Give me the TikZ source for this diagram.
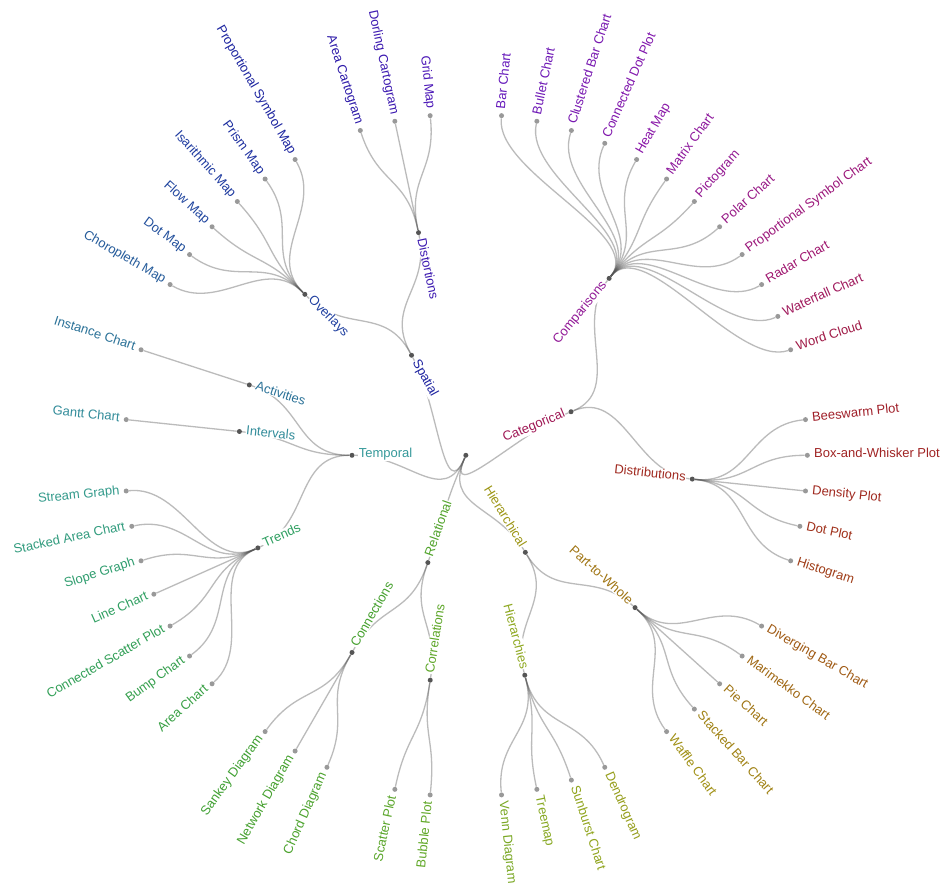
\documentclass[tikz,border=0pt]{standalone}
\usepackage{fontspec}
\setmainfont{Liberation Sans}
\pgfdeclarelayer{bg}
\pgfsetlayers{bg,main}
\definecolor{kA}{HTML}{5C18C0}
\definecolor{kB}{HTML}{8A18A8}
\definecolor{kC}{HTML}{A01870}
\definecolor{kD}{HTML}{A01C2C}
\definecolor{kE}{HTML}{A02C1C}
\definecolor{kF}{HTML}{A05A14}
\definecolor{kG}{HTML}{A09214}
\definecolor{kH}{HTML}{8EA820}
\definecolor{kI}{HTML}{62A828}
\definecolor{kJ}{HTML}{40A030}
\definecolor{kK}{HTML}{30A060}
\definecolor{kL}{HTML}{35999A}
\definecolor{kM}{HTML}{2A6E98}
\definecolor{kN}{HTML}{2040A0}
\definecolor{kO}{HTML}{1C1CA0}
\definecolor{kP}{HTML}{5C18C0}
\definecolor{nc}{HTML}{000000}
\definecolor{dk}{HTML}{555555}
\definecolor{lt}{HTML}{999999}
\definecolor{lkcol}{HTML}{555555}
\makeatletter
\newcommand\mkcol[1]{\def\mk@a{#1}%
 \mk@t{0}{30}{kA}{kB}\mk@t{30}{60}{kB}{kC}\mk@t{60}{80}{kC}{kD}%
 \mk@t{80}{100}{kD}{kE}\mk@t{100}{120}{kE}{kF}\mk@t{120}{145}{kF}{kG}%
 \mk@t{145}{165}{kG}{kH}\mk@t{165}{185}{kH}{kI}\mk@t{185}{215}{kI}{kJ}%
 \mk@t{215}{245}{kJ}{kK}\mk@t{245}{270}{kK}{kL}\mk@t{270}{290}{kL}{kM}%
 \mk@t{290}{315}{kM}{kN}\mk@t{315}{335}{kN}{kO}\mk@t{335}{360}{kO}{kP}}
\newcommand\mk@t[4]{\ifdim\mk@a pt<#1pt\relax\else\ifdim\mk@a pt>#2pt\relax\else
  \pgfmathsetmacro\mk@f{100*(\mk@a-#1)/(#2-#1)}\colorlet{nc}{#4!\mk@f!#3}\fi\fi}
\makeatother
\newcommand\tn[5]{%
  \mkcol{#2}%
  \expandafter\xdef\csname ang#1\endcsname{#2}%
  \expandafter\xdef\csname rad#1\endcsname{#3}%
  \pgfmathsetmacro\phiang{90-#2}%
  \ifdim #2pt<180pt \pgfmathsetmacro\rot{90-#2}\def\sideR{1}\else\pgfmathsetmacro\rot{270-#2}\def\sideR{0}\fi
  \if#5l\def\off{6}\def\dcol{lt}\else\def\off{-6}\def\dcol{dk}\fi
  \ifnum\sideR=1 \if#5l\def\anc{mid west}\else\def\anc{mid east}\fi
  \else \if#5l\def\anc{mid east}\else\def\anc{mid west}\fi\fi
  \pgfmathsetmacro\rlab{#3+\off}%
  \node[dot=\dcol] (#1) at (\phiang:#3) {};
  \node[lab, text=nc, rotate=\rot, anchor=\anc] (#1t) at (\phiang:\rlab) {#4};
}
\newcommand\lk[2]{%
  \edef\tmpa{\csname ang#1\endcsname}\edef\tmpb{\csname ang#2\endcsname}%
  \edef\tmpc{\csname rad#1\endcsname}\edef\tmpd{\csname rad#2\endcsname}%
  \pgfmathsetmacro\pa{90-\tmpa}%
  \pgfmathsetmacro\ca{90-\tmpb}%
  \pgfmathsetmacro\rmid{(\tmpc+\tmpd)/2}%
  \draw[lnk] (#1) .. controls (\pa:\rmid) and (\ca:\rmid) .. (#2);}
\begin{document}
\begin{tikzpicture}[x=1pt,y=1pt,
  dot/.style={circle,fill=#1,draw=none,inner sep=0pt,minimum size=5pt},
  lab/.style={inner sep=0.6pt,fill=white,font=\fontsize{13}{16}\selectfont},
  lnk/.style={draw=lkcol,draw opacity=0.4,line width=1.3pt}]
\useasboundingbox (-465.85,-434.7) rectangle (481.15,455.3);
% root
\node[dot=dk] (root) at (0,0) {};
\gdef\angroot{203.4}\gdef\radroot{0}
% depth 1
\tn{spatial}{331.5}{113.833}{Spatial}{i}
\tn{categorical}{67.5}{113.833}{Categorical}{i}
\tn{hierarchical}{148.5}{113.833}{Hierarchical}{i}
\tn{relational}{199.5}{113.833}{Relational}{i}
\tn{temporal}{270}{113.833}{Temporal}{i}
% depth 2
\tn{overlays}{315}{227.667}{Overlays}{i}
\tn{distortions}{348}{227.667}{Distortions}{i}
\tn{comparisons}{39}{227.667}{Comparisons}{i}
\tn{distributions}{96}{227.667}{Distributions}{i}
\tn{parttowhole}{132}{227.667}{Part-to-Whole}{i}
\tn{hierarchies}{165}{227.667}{Hierarchies}{i}
\tn{correlations}{189}{227.667}{Correlations}{i}
\tn{connections}{210}{227.667}{Connections}{i}
\tn{trends}{246}{227.667}{Trends}{i}
\tn{intervals}{276}{227.667}{Intervals}{i}
\tn{activities}{288}{227.667}{Activities}{i}
% leaves
\tn{choro}{300}{341.5}{Choropleth Map}{l}
\tn{dotmap}{306}{341.5}{Dot Map}{l}
\tn{flow}{312}{341.5}{Flow Map}{l}
\tn{isar}{318}{341.5}{Isarithmic Map}{l}
\tn{prism}{324}{341.5}{Prism Map}{l}
\tn{psmap}{330}{341.5}{Proportional Symbol Map}{l}
\tn{areacart}{342}{341.5}{Area Cartogram}{l}
\tn{dorling}{348}{341.5}{Dorling Cartogram}{l}
\tn{grid}{354}{341.5}{Grid Map}{l}
\tn{bar}{6}{341.5}{Bar Chart}{l}
\tn{bullet}{12}{341.5}{Bullet Chart}{l}
\tn{clustered}{18}{341.5}{Clustered Bar Chart}{l}
\tn{conndot}{24}{341.5}{Connected Dot Plot}{l}
\tn{heat}{30}{341.5}{Heat Map}{l}
\tn{matrix}{36}{341.5}{Matrix Chart}{l}
\tn{picto}{42}{341.5}{Pictogram}{l}
\tn{polar}{48}{341.5}{Polar Chart}{l}
\tn{pschart}{54}{341.5}{Proportional Symbol Chart}{l}
\tn{radar}{60}{341.5}{Radar Chart}{l}
\tn{waterfall}{66}{341.5}{Waterfall Chart}{l}
\tn{word}{72}{341.5}{Word Cloud}{l}
\tn{bees}{84}{341.5}{Beeswarm Plot}{l}
\tn{box}{90}{341.5}{Box-and-Whisker Plot}{l}
\tn{density}{96}{341.5}{Density Plot}{l}
\tn{dotplot}{102}{341.5}{Dot Plot}{l}
\tn{histo}{108}{341.5}{Histogram}{l}
\tn{diverging}{120}{341.5}{Diverging Bar Chart}{l}
\tn{marimekko}{126}{341.5}{Marimekko Chart}{l}
\tn{pie}{132}{341.5}{Pie Chart}{l}
\tn{stacked}{138}{341.5}{Stacked Bar Chart}{l}
\tn{waffle}{144}{341.5}{Waffle Chart}{l}
\tn{dendro}{156}{341.5}{Dendrogram}{l}
\tn{sunburst}{162}{341.5}{Sunburst Chart}{l}
\tn{treemap}{168}{341.5}{Treemap}{l}
\tn{venn}{174}{341.5}{Venn Diagram}{l}
\tn{bubble}{186}{341.5}{Bubble Plot}{l}
\tn{scatter}{192}{341.5}{Scatter Plot}{l}
\tn{chord}{204}{341.5}{Chord Diagram}{l}
\tn{network}{210}{341.5}{Network Diagram}{l}
\tn{sankey}{216}{341.5}{Sankey Diagram}{l}
\tn{areachart}{228}{341.5}{Area Chart}{l}
\tn{bump}{234}{341.5}{Bump Chart}{l}
\tn{connscatter}{240}{341.5}{Connected Scatter Plot}{l}
\tn{line}{246}{341.5}{Line Chart}{l}
\tn{slope}{252}{341.5}{Slope Graph}{l}
\tn{stackedarea}{258}{341.5}{Stacked Area Chart}{l}
\tn{stream}{264}{341.5}{Stream Graph}{l}
\tn{gantt}{276}{341.5}{Gantt Chart}{l}
\tn{instance}{288}{341.5}{Instance Chart}{l}
\begin{pgfonlayer}{bg}
\fill[white] (-465.85,-434.7) rectangle (481.15,455.3);
\foreach \c in {spatial,categorical,hierarchical,relational,temporal}{\lk{root}{\c}}
\foreach \c in {overlays,distortions}{\lk{spatial}{\c}}
\foreach \c in {comparisons,distributions}{\lk{categorical}{\c}}
\foreach \c in {parttowhole,hierarchies}{\lk{hierarchical}{\c}}
\foreach \c in {correlations,connections}{\lk{relational}{\c}}
\foreach \c in {trends,intervals,activities}{\lk{temporal}{\c}}
\foreach \c in {choro,dotmap,flow,isar,prism,psmap}{\lk{overlays}{\c}}
\foreach \c in {areacart,dorling,grid}{\lk{distortions}{\c}}
\foreach \c in {bar,bullet,clustered,conndot,heat,matrix,picto,polar,pschart,radar,waterfall,word}{\lk{comparisons}{\c}}
\foreach \c in {bees,box,density,dotplot,histo}{\lk{distributions}{\c}}
\foreach \c in {diverging,marimekko,pie,stacked,waffle}{\lk{parttowhole}{\c}}
\foreach \c in {dendro,sunburst,treemap,venn}{\lk{hierarchies}{\c}}
\foreach \c in {bubble,scatter}{\lk{correlations}{\c}}
\foreach \c in {chord,network,sankey}{\lk{connections}{\c}}
\foreach \c in {areachart,bump,connscatter,line,slope,stackedarea,stream}{\lk{trends}{\c}}
\lk{intervals}{gantt}
\lk{activities}{instance}
\end{pgfonlayer}
\end{tikzpicture}
\end{document}
